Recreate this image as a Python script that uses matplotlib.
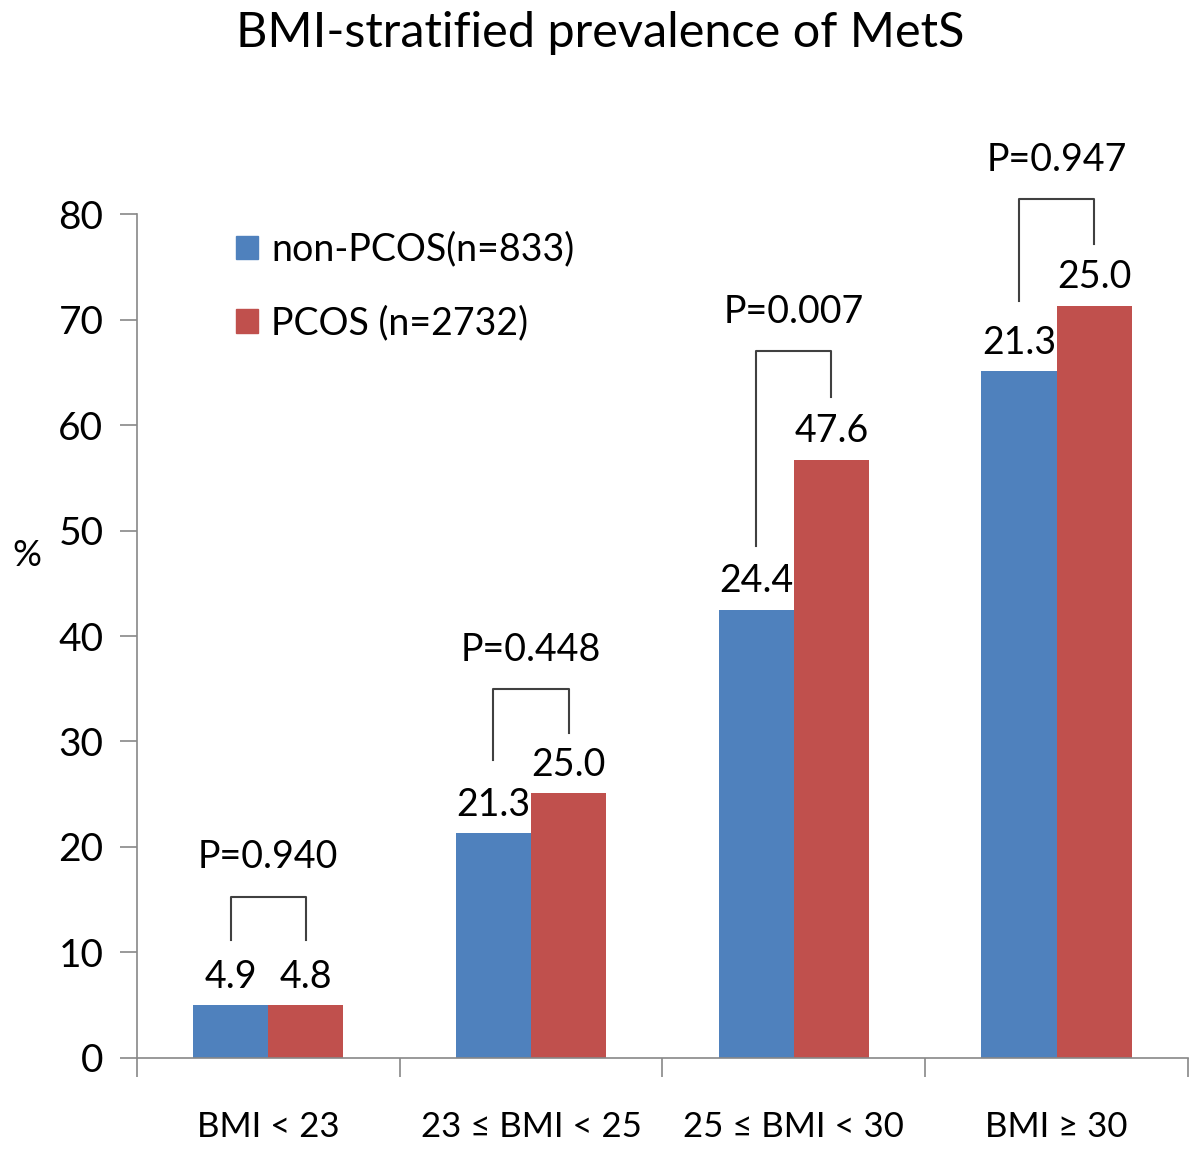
import numpy as np
import matplotlib
matplotlib.use("Agg")
import matplotlib.pyplot as plt
from matplotlib.patches import Patch

# 데이터
categories = ["BMI < 23", "23 ≤ BMI < 25", "25 ≤ BMI < 30", "BMI ≥ 30"]
non_pcos_height = [5.0, 21.3, 42.5, 65.1]
pcos_height = [5.0, 25.1, 56.7, 71.3]
non_pcos_label = ["4.9", "21.3", "24.4", "21.3"]
pcos_label = ["4.8", "25.0", "47.6", "25.0"]
p_values = ["P=0.940", "P=0.448", "P=0.007", "P=0.947"]
# 괄호: 위쪽 높이, 왼쪽 다리 끝, 오른쪽 다리 끝
bracket_top = [15.3, 35.0, 67.0, 81.4]
bracket_left = [11.2, 28.2, 48.5, 71.8]
bracket_right = [11.2, 30.8, 62.7, 77.2]
legend_names = ["non-PCOS(n=833)", "PCOS (n=2732)"]

blue = "#4F81BD"
red = "#C0504D"
font = ["Lato", "DejaVu Sans"]
plt.rcParams['font.family'] = font

fig = plt.figure(figsize=(12, 11.55), dpi=100)
ax = fig.add_axes([0.114, 0.084, 0.876, 0.7307])

x = np.arange(len(categories))
w = 0.286
ax.bar(x - w/2, non_pcos_height, w, color=blue)
ax.bar(x + w/2, pcos_height, w, color=red)

for i in range(len(categories)):
    ax.text(x[i] - w/2, non_pcos_height[i] + 1.0, non_pcos_label[i], ha='center', va='bottom', fontsize=27)
    ax.text(x[i] + w/2, pcos_height[i] + 1.0, pcos_label[i], ha='center', va='bottom', fontsize=27)
    # 괄호 그리기
    ax.plot([x[i] - w/2, x[i] - w/2, x[i] + w/2, x[i] + w/2],
            [bracket_left[i], bracket_top[i], bracket_top[i], bracket_right[i]],
            color="#404040", lw=1.5, clip_on=False)
    ax.text(x[i], bracket_top[i] + 2.0, p_values[i], ha='center', va='bottom', fontsize=27)

ax.set_xlim(-0.5, len(categories) - 0.5)
ax.set_ylim(0, 80)
ax.set_yticks(range(0, 81, 10))
ax.set_xticks(np.arange(-0.5, len(categories), 1.0))
ax.set_xticklabels([])
ax.set_xticks(x, minor=True)
ax.set_xticklabels(categories, minor=True, fontsize=25)
ax.tick_params(axis='x', which='minor', length=0, pad=38)
ax.tick_params(axis='x', which='major', length=14, width=1.2, color="#888888", direction='out')
ax.tick_params(axis='y', length=12, width=1.2, color="#888888", labelsize=28, pad=12)

for s in ['top', 'right']:
    ax.spines[s].set_visible(False)
for s in ['left', 'bottom']:
    ax.spines[s].set_color("#888888")
    ax.spines[s].set_linewidth(1.2)

fig.text(0.01, 0.519, "%", fontsize=26, ha='left', va='center')
fig.text(0.5, 0.971, "BMI-stratified prevalence of MetS", fontsize=35, ha='center', va='center')

handles = [Patch(color=blue), Patch(color=red)]
ax.legend(handles, legend_names, loc='upper left', bbox_to_anchor=(0.062, 1.019),
          frameon=False, fontsize=27, handlelength=0.6, handleheight=0.6,
          handletextpad=0.35, labelspacing=1.0)

fig.savefig("out.png", dpi=100)
